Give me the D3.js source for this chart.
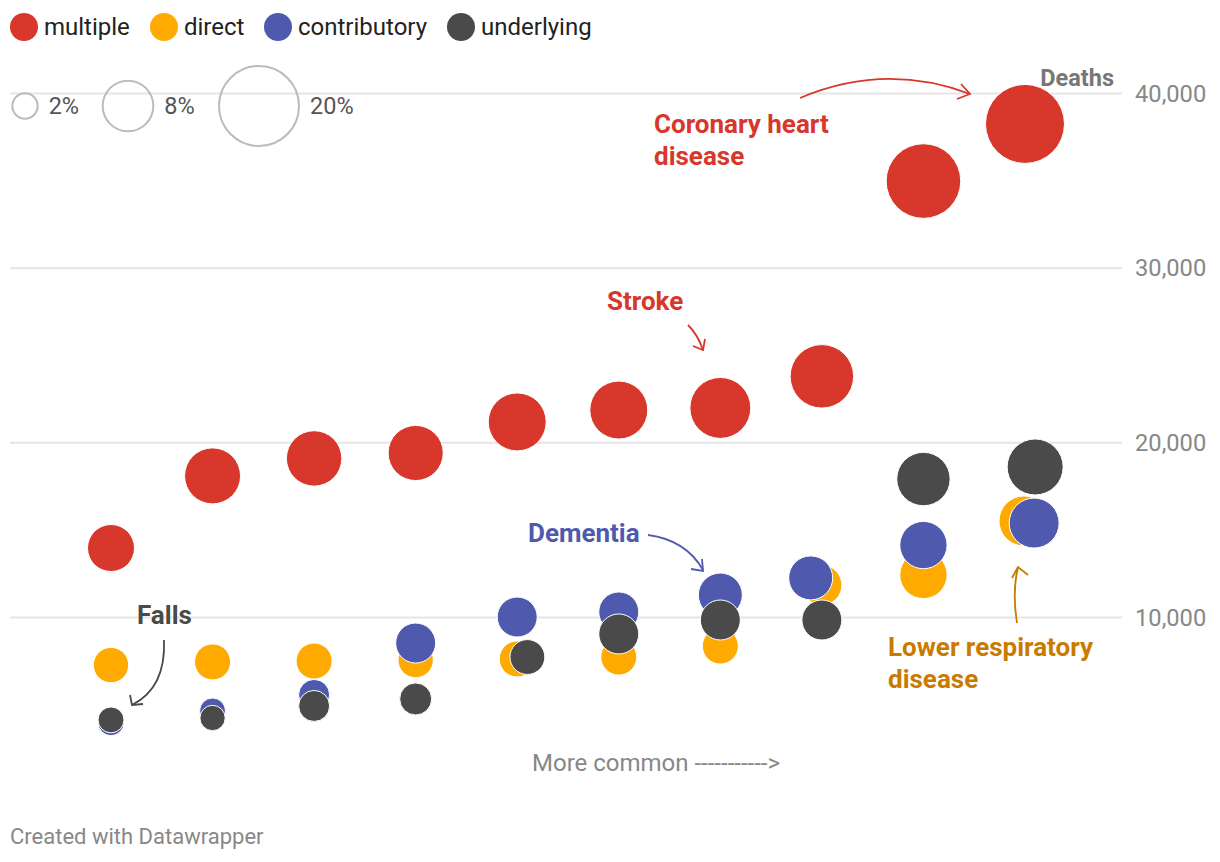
<!DOCTYPE html>
<html>
<head>
<meta charset="utf-8">
<script src="https://cdn.jsdelivr.net/npm/d3@7"></script>
<style>
  html, body { margin: 0; padding: 0; background: #fff; }
  svg { display: block; font-family: Roboto, "Noto Sans", sans-serif; }
</style>
</head>
<body>
<svg id="chart" width="1220" height="862"></svg>
<script>
// ---------- DATA ----------
const ranks = [1, 2, 3, 4, 5, 6, 7, 8, 9, 10];
const seriesNames = ["multiple", "direct", "contributory", "underlying"];
const seriesColors = ["#d8372b", "#ffaa00", "#4f5aae", "#4a4a4a"];

// deaths (y) per series, by rank
const multipleDeaths     = [13950, 18080, 19080, 19390, 21170, 21850, 21970, 23780, 34960, 38230];
const directDeaths       = [7250, 7430, 7480, 7540, 7600, 7710, 8340, 11830, 12410, 15500];
const contributoryDeaths = [3950, 4620, 5540, 8510, 10000, 10290, 11260, 12240, 14120, 15380];
const underlyingDeaths   = [4110, 4220, 4910, 5310, 7710, 9030, 9830, 9830, 17900, 18590];

// share of deaths (%) -> bubble size
const multipleShare     = [6.9, 9.8, 9.6, 9.5, 10.5, 10.5, 11.6, 12.6, 17.4, 19.5];
const directShare       = [3.9, 4.05, 4.05, 3.9, 4.05, 4.05, 4.05, 5.0, 7.0, 7.8];
const contributoryShare = [2.1, 2.1, 3.0, 5.0, 5.0, 5.0, 6.05, 6.05, 7.0, 7.8];
const underlyingShare   = [2.1, 2.0, 3.0, 3.2, 3.8, 5.0, 5.0, 5.0, 8.9, 9.8];

// x position (rank, with small offsets as in source)
const multipleX     = [1, 2, 3, 4, 5, 6, 7, 8, 9, 10];
const directX       = [1, 2, 3, 4, 5, 6, 7, 8, 9, 9.99];
const contributoryX = [1, 2, 3, 4, 5, 6, 7, 7.89, 9, 10.09];
const underlyingX   = [1, 2, 3, 4, 5.1, 6, 7, 8, 9, 10.1];

const yTicks = [10000, 20000, 30000, 40000];
const sizeLegendValues = [2, 8, 20];

// ---------- SCALES ----------
const svg = d3.select("#chart");
const x = d3.scaleLinear().domain([1, 10]).range([111, 1025]);
const y = d3.scaleLinear().domain([0, 40000]).range([791.7, 93]);
const r = d3.scaleSqrt().domain([0, 20]).range([0, 40]);

// ---------- GRID / AXIS ----------
const axis = d3.axisRight(y)
  .tickValues(yTicks)
  .tickSize(1112)
  .tickPadding(13)
  .tickFormat(d3.format(","));
const gAxis = svg.append("g").attr("transform", "translate(10,0)").call(axis);
gAxis.select(".domain").remove();
gAxis.selectAll(".tick line").attr("stroke", "#e5e5e5").attr("stroke-width", 2);
gAxis.selectAll(".tick text")
  .attr("fill", "#888").attr("font-size", 23.7).attr("font-family", "Roboto")
  .attr("dy", "0.34em");

svg.append("text").attr("x", 1114).attr("y", 86).attr("text-anchor", "end")
  .attr("font-size", 23.5).attr("font-weight", 700).attr("fill", "#777").text("Deaths");

// ---------- SIZE LEGEND ----------
const sizeLegendX = [25, 128, 259];
const sl = svg.append("g");
sizeLegendValues.forEach((v, i) => {
  sl.append("circle").attr("cx", sizeLegendX[i]).attr("cy", 106).attr("r", r(v))
    .attr("fill", "none").attr("stroke", "#bbb").attr("stroke-width", 2);
  sl.append("text").attr("x", sizeLegendX[i] + r(v) + 11).attr("y", 114)
    .attr("font-size", 23.5).attr("fill", "#555").text(v + "%");
});

// ---------- COLOR LEGEND ----------
const legendX = [24, 164, 278, 461];
const lg = svg.append("g");
seriesNames.forEach((n, i) => {
  lg.append("circle").attr("cx", legendX[i]).attr("cy", 27).attr("r", 14).attr("fill", seriesColors[i]);
  lg.append("text").attr("x", legendX[i] + 20).attr("y", 35)
    .attr("font-size", 24).attr("fill", "#222").text(n);
});

// ---------- BUBBLES ----------
const series = [
  { name: "multiple", deaths: multipleDeaths, share: multipleShare, xs: multipleX },
  { name: "direct", deaths: directDeaths, share: directShare, xs: directX },
  { name: "contributory", deaths: contributoryDeaths, share: contributoryShare, xs: contributoryX },
  { name: "underlying", deaths: underlyingDeaths, share: underlyingShare, xs: underlyingX }
];
series.forEach((s, si) => {
  const pts = ranks.map((rk, i) => ({ x: s.xs[i], y: s.deaths[i], p: s.share[i] }));
  svg.append("g").selectAll("circle").data(pts).join("circle")
    .attr("cx", d => x(d.x)).attr("cy", d => y(d.y)).attr("r", d => r(d.p))
    .attr("fill", seriesColors[si]).attr("stroke", "#fff").attr("stroke-width", 1);
});

// ---------- ANNOTATIONS ----------
const ann = svg.append("g").attr("font-size", 26).attr("font-weight", 700);
function label(lines, x0, y0, color) {
  const t = ann.append("text").attr("x", x0).attr("y", y0).attr("fill", color);
  lines.forEach((l, i) => t.append("tspan").attr("x", x0).attr("dy", i ? 31.5 : 0).text(l));
}
function arrow(d, head, color) {
  svg.append("path").attr("d", d).attr("fill", "none").attr("stroke", color).attr("stroke-width", 1.8);
  svg.append("path").attr("d", head).attr("fill", "none").attr("stroke", color).attr("stroke-width", 1.8)
    .attr("stroke-linejoin", "miter");
}
label(["Coronary heart", "disease"], 654, 133, "#d8372b");
arrow("M800,98 Q885,62 970,94", "M961,84 L970,94 L957,99", "#d8372b");

label(["Stroke"], 607, 310, "#d8372b");
arrow("M688,325 Q698,335 703,350", "M693,346 L703,350 L705,339", "#d8372b");

label(["Dementia"], 528, 542, "#4f5aae");
arrow("M648,535 Q686,540 703,570", "M691,569 L703,571 L702,559", "#4f5aae");

label(["Falls"], 137, 624, "#4a4a4a");
arrow("M164,640 Q166,688 132,705", "M130,695 L132,705 L143,704", "#4a4a4a");

label(["Lower respiratory", "disease"], 888, 656, "#c97b00");
arrow("M1017,623 Q1012,592 1018,567", "M1012,578 L1018,567 L1028,575", "#c97b00");

// ---------- FOOTER ----------
svg.append("text").attr("x", 656).attr("y", 771).attr("text-anchor", "middle")
  .attr("font-size", 24).attr("fill", "#888").text("More common ----------->");
svg.append("text").attr("x", 10).attr("y", 844)
  .attr("font-size", 22).attr("fill", "#888").text("Created with Datawrapper");
</script>
</body>
</html>
